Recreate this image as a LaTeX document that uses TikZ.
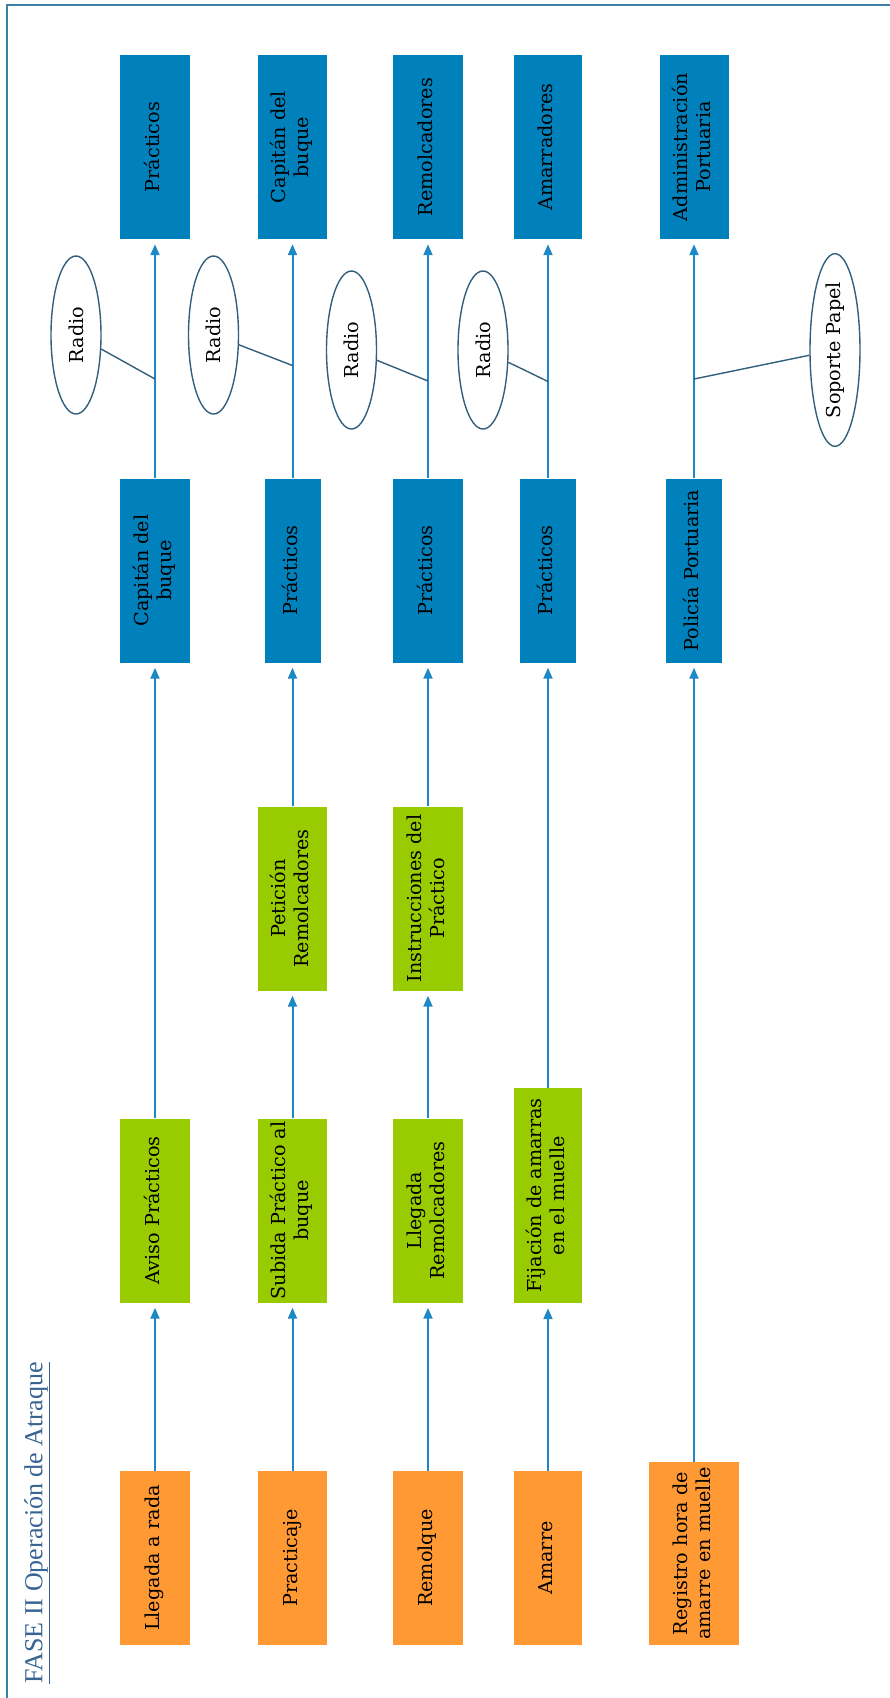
\documentclass[tikz,border=0pt]{standalone}
\usepackage{fontspec}
\usepackage{graphicx}
\setmainfont{DejaVu Serif}
\newfontfamily\titlefont{Liberation Serif}
\usetikzlibrary{arrows.meta,shapes.geometric}
\definecolor{bluebox}{RGB}{0,129,187}
\definecolor{greenbox}{RGB}{153,204,0}
\definecolor{orangebox}{RGB}{255,153,51}
\definecolor{arrowc}{RGB}{28,136,200}
\definecolor{ellc}{RGB}{50,95,125}
\definecolor{framec}{RGB}{62,128,165}
\definecolor{titlec}{RGB}{55,100,145}
\newcommand{\rt}[1]{\rotatebox{90}{\begin{tabular}{@{}c@{}}#1\end{tabular}}}
\tikzset{
  bx/.style={inner sep=0pt, text=black, font=\fontsize{19.2}{23}\selectfont, minimum height=184pt},
  bluen/.style={bx, fill=bluebox},
  greenn/.style={bx, fill=greenbox},
  orangen/.style={bx, fill=orangebox, minimum height=174pt},
  arr/.style={draw=arrowc, line width=2pt, -{Triangle[length=11pt,width=9pt]}, shorten >=5pt},
  ell/.style={ellipse, draw=ellc, line width=1.4pt, minimum width=50pt, minimum height=158pt, inner sep=0pt, font=\fontsize{19.2}{23}\selectfont},
  lnk/.style={draw=ellc, line width=1.4pt}
}
\begin{document}
\begin{tikzpicture}[x=1pt,y=-1pt]
\useasboundingbox (0,0) rectangle (890,1698);
\draw[framec, line width=2.6pt] (7,1700) -- (7,5) -- (892,5);

% title
\node[rotate=90, text=titlec, font=\titlefont\fontsize{26}{30}\selectfont, inner sep=0pt] (title) at (37,1523) {\underline{FASE II Operación de Atraque}};

% column 1
\node[bluen, minimum width=70pt] (t1) at (155,147) {\rt{Prácticos}};
\node[bluen, minimum width=70pt] (m1) at (155,570.5) {\rt{Capitán del\\buque}};
\node[greenn, minimum width=70pt] (g1) at (155,1210.5) {\rt{Aviso Prácticos}};
\node[orangen, minimum width=70pt] (o1) at (155,1558) {\rt{Llegada a rada}};
% column 2
\node[bluen, minimum width=69pt] (t2) at (292.5,147) {\rt{Capitán del\\buque}};
\node[bluen, minimum width=56pt] (m2) at (292.5,570.5) {\rt{Prácticos}};
\node[greenn, minimum width=69pt] (h2) at (292.5,898.5) {\rt{Petición\\Remolcadores}};
\node[greenn, minimum width=69pt] (g2) at (292.5,1210.5) {\rt{Subida Práctico al\\buque}};
\node[orangen, minimum width=69pt] (o2) at (292.5,1558) {\rt{Practicaje}};
% column 3
\node[bluen, minimum width=70pt] (t3) at (428,147) {\rt{Remolcadores}};
\node[bluen, minimum width=70pt] (m3) at (428,570.5) {\rt{Prácticos}};
\node[greenn, minimum width=70pt] (h3) at (428,898.5) {\rt{Instrucciones del\\Práctico}};
\node[greenn, minimum width=70pt] (g3) at (428,1210.5) {\rt{Llegada\\Remolcadores}};
\node[orangen, minimum width=70pt] (o3) at (428,1558) {\rt{Remolque}};
% column 4
\node[bluen, minimum width=68pt] (t4) at (548,147) {\rt{Amarradores}};
\node[bluen, minimum width=56pt] (m4) at (548,570.5) {\rt{Prácticos}};
\node[greenn, minimum width=68pt, minimum height=215pt] (g4) at (548,1195.5) {\rt{Fijación de amarras\\en el muelle}};
\node[orangen, minimum width=68pt] (o4) at (548,1558) {\rt{Amarre}};
% column 5
\node[bluen, minimum width=69pt] (t5) at (694,147) {\rt{Administración\\Portuaria}};
\node[bluen, minimum width=56pt] (m5) at (694,570.5) {\rt{Policía Portuaria}};
\node[orangen, minimum width=90pt, minimum height=183pt] (o5) at (694,1553.5) {\rt{Registro hora de\\amarre en muelle}};

% arrows
\draw[arr] (o1.north) -- (g1.south);
\draw[arr] (g1.north) -- (m1.south);
\draw[arr] (m1.north) -- (t1.south);
\draw[arr] (o2.north) -- (g2.south);
\draw[arr] (g2.north) -- (h2.south);
\draw[arr] (h2.north) -- (m2.south);
\draw[arr] (m2.north) -- (t2.south);
\draw[arr] (o3.north) -- (g3.south);
\draw[arr] (g3.north) -- (h3.south);
\draw[arr] (h3.north) -- (m3.south);
\draw[arr] (m3.north) -- (t3.south);
\draw[arr] (o4.north) -- (g4.south);
\draw[arr] (g4.north) -- (m4.south);
\draw[arr] (m4.north) -- (t4.south);
\draw[arr] (o5.north) -- (m5.south);
\draw[arr] (m5.north) -- (t5.south);

% ellipses
\node[ell] (e1) at (76,335) {\rotatebox{90}{Radio}};
\node[ell] (e2) at (213.5,335) {\rotatebox{90}{Radio}};
\node[ell] (e3) at (351.5,350) {\rotatebox{90}{Radio}};
\node[ell] (e4) at (483,350) {\rotatebox{90}{Radio}};
\node[ell] (e5) at (835,350) {\rotatebox{90}{Soporte Papel}};
\coordinate (c1) at (155,379);
\coordinate (c2) at (292.5,365.5);
\coordinate (c3) at (428,381);
\coordinate (c4) at (548,381.5);
\coordinate (c5) at (694,379);
\draw[lnk] (e1) -- (c1);
\draw[lnk] (e2) -- (c2);
\draw[lnk] (e3) -- (c3);
\draw[lnk] (e4) -- (c4);
\draw[lnk] (e5) -- (c5);
\end{tikzpicture}
\end{document}
